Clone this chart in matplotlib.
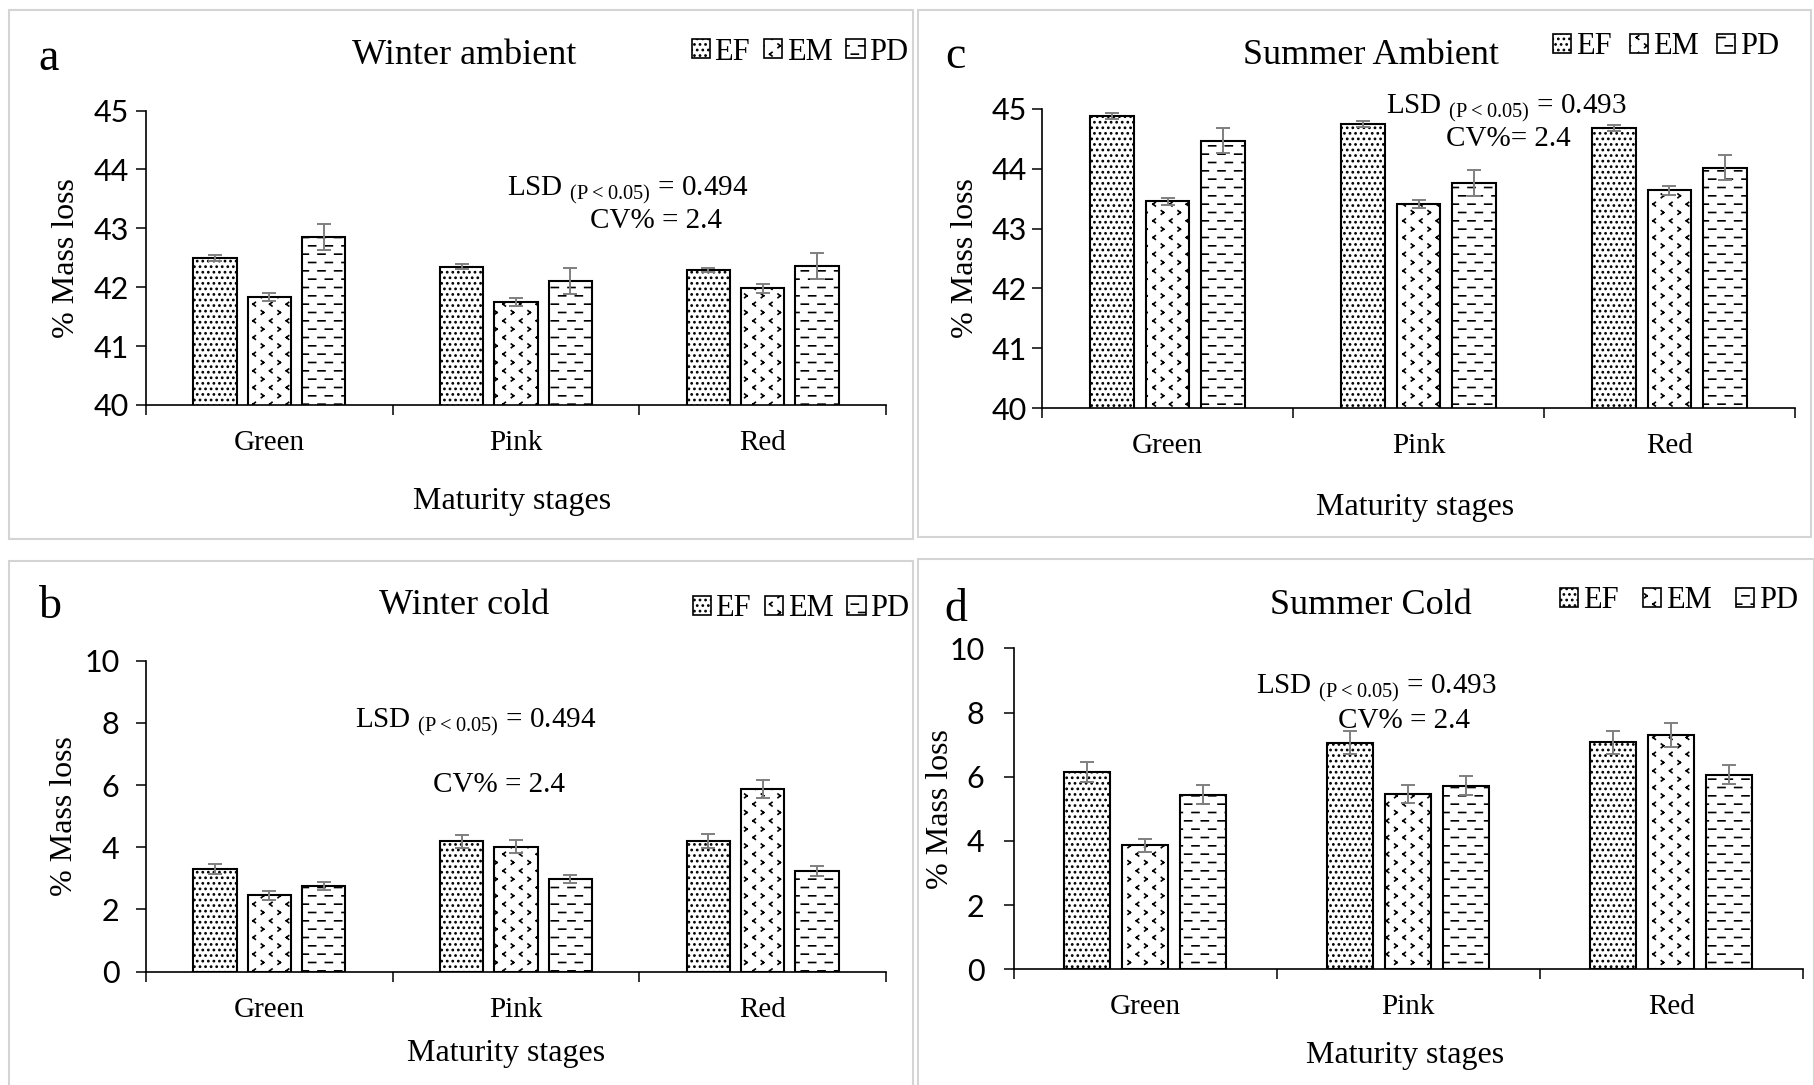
import warnings
import numpy as np
import matplotlib
matplotlib.use('Agg')
import matplotlib.pyplot as plt
from matplotlib import hatch as mhatch
from matplotlib.path import Path
from matplotlib.patches import Patch, Rectangle

warnings.filterwarnings('ignore', category=matplotlib.MatplotlibDeprecationWarning)

stages = ['Green', 'Pink', 'Red']
treatments = ['EF', 'EM', 'PD']

# mean % mass loss, one row per treatment (EF, EM, PD), columns follow stages
winter_ambient = [[42.49, 42.35, 42.29], [41.84, 41.75, 41.98], [42.86, 42.11, 42.36]]
winter_ambient_err = [[0.05, 0.04, 0.04], [0.07, 0.07, 0.07], [0.22, 0.22, 0.22]]
summer_ambient = [[44.88, 44.75, 44.69], [43.46, 43.41, 43.64], [44.47, 43.76, 44.02]]
summer_ambient_err = [[0.05, 0.05, 0.05], [0.06, 0.07, 0.07], [0.21, 0.22, 0.21]]
winter_cold = [[3.30, 4.19, 4.20], [2.46, 4.02, 5.87], [2.75, 2.98, 3.25]]
winter_cold_err = [[0.17, 0.22, 0.22], [0.14, 0.21, 0.28], [0.13, 0.14, 0.16]]
summer_cold = [[6.15, 7.06, 7.07], [3.86, 5.46, 7.29], [5.44, 5.72, 6.06]]
summer_cold_err = [[0.31, 0.36, 0.36], [0.20, 0.28, 0.37], [0.29, 0.30, 0.30]]

lsd_ambient_winter = '0.494'
lsd_summer = '0.493'
cv = '2.4'


# extra hatch patterns: '<' small chevrons, '_' staggered dashes
class Chevrons(mhatch.HatchPatternBase):
    def __init__(self, hatch, density):
        self.n = hatch.count('<') * density
        self.num_vertices = self.n * self.n * 8

    def set_vertices_and_codes(self, vertices, codes):
        s = 1.0 / self.n
        w, h = 0.07 * s, 0.11 * s
        pts = []
        for i in range(self.n):
            for j in range(self.n):
                x, y = (i + 0.25) * s, (j + 0.75) * s
                pts += [(x + w, y + h), (x - w, y), (x - w, y), (x + w, y - h)]
                x, y = (i + 0.75) * s, (j + 0.25) * s
                pts += [(x - w, y + h), (x + w, y), (x + w, y), (x - w, y - h)]
        vertices[:] = pts
        codes[:] = [Path.MOVETO, Path.LINETO] * (len(pts) // 2)


class Dashes(mhatch.HatchPatternBase):
    def __init__(self, hatch, density):
        self.n = hatch.count('_') * density
        self.num_vertices = self.n * self.n * 4

    def set_vertices_and_codes(self, vertices, codes):
        s = 1.0 / self.n
        pts = []
        for i in range(self.n):
            for j in range(self.n):
                x, y = i * s, j * s
                pts += [(x + 0.08 * s, y + 0.75 * s), (x + 0.50 * s, y + 0.75 * s),
                        (x + 0.52 * s, y + 0.25 * s), (x + 0.94 * s, y + 0.25 * s)]
        vertices[:] = pts
        codes[:] = [Path.MOVETO, Path.LINETO] * (len(pts) // 2)


mhatch._hatch_types.append(Chevrons)
mhatch._hatch_types.append(Dashes)

hatches = ['...', '<', '_']

plt.rcParams['font.family'] = 'Liberation Serif'
plt.rcParams['mathtext.fontset'] = 'custom'
plt.rcParams['mathtext.rm'] = 'Liberation Serif'
plt.rcParams['hatch.linewidth'] = 1.2

W, H = 1814, 1085
fig = plt.figure(figsize=(W / 100, H / 100), dpi=100)


def px(x, y):
    return x / W, 1 - y / H


def panel(box, frame, means, errs, ylim, ystep, ypad, letter, title, lsd,
          t_xy, l_xy, leg_xy, lsd_xy, cv_xy, yl_xy, xl_xy, cv_text, colsp):
    x0, y0, x1, y1 = box
    ax = fig.add_axes([x0 / W, 1 - y1 / H, (x1 - x0) / W, (y1 - y0) / H])
    fx0, fy0, fx1, fy1 = frame
    fig.patches.append(Rectangle(px(fx0, fy1), (fx1 - fx0) / W, (fy1 - fy0) / H,
                                 transform=fig.transFigure, fill=False,
                                 edgecolor='#d4d4d4', lw=1.5))
    x = np.arange(len(stages))
    offsets = [-0.22, 0, 0.22]
    for k in range(len(treatments)):
        ax.bar(x + offsets[k], means[k], width=0.175, color='white',
               edgecolor='black', lw=1.5, hatch=hatches[k], label=treatments[k])
        ax.errorbar(x + offsets[k], means[k], yerr=errs[k], fmt='none',
                    ecolor='#7f7f7f', elinewidth=1.4, capsize=5, capthick=1.4)
    ax.set_xlim(-0.5, 2.5)
    ax.set_ylim(*ylim)
    ax.set_yticks(np.arange(ylim[0], ylim[1] + 0.01, ystep))
    ax.set_xticks([-0.5, 0.5, 1.5, 2.5])
    ax.set_xticklabels([])
    ax.set_xticks(x, minor=True)
    ax.set_xticklabels(stages, minor=True, fontsize=21)
    ax.tick_params(axis='x', which='major', length=7, width=1.1, direction='out')
    ax.tick_params(axis='x', which='minor', length=0, pad=18)
    ax.tick_params(axis='y', length=7, width=1.1, pad=ypad, labelsize=22)
    for lab in ax.get_yticklabels():
        lab.set_family('Lato')
    for s in ['top', 'right']:
        ax.spines[s].set_visible(False)
    for s in ['left', 'bottom']:
        ax.spines[s].set_linewidth(1.2)
    ax.patch.set_visible(False)

    fig.text(*px(*t_xy), title, fontsize=26, ha='center', va='baseline')
    fig.text(*px(*l_xy), letter, fontsize=33, ha='center', va='baseline')
    fig.text(*px(*lsd_xy), r'LSD ${}_{\mathrm{(P<0.05)}}$ = ' + lsd,
             fontsize=21, ha='center', va='baseline')
    fig.text(*px(*cv_xy), cv_text, fontsize=21, ha='center', va='baseline')
    fig.text(*px(*yl_xy), '% Mass loss', fontsize=23, rotation=90,
             ha='center', va='center')
    fig.text(*px(*xl_xy), 'Maturity stages', fontsize=23, ha='center', va='baseline')
    handles = [Patch(facecolor='white', edgecolor='black', lw=1.2, hatch=h)
               for h in hatches]
    fig.legend(handles, treatments, loc='center', bbox_to_anchor=px(*leg_xy),
               ncol=3, frameon=False, fontsize=22, handlelength=0.6,
               handleheight=0.6, handletextpad=0.15, columnspacing=colsp,
               borderpad=0, borderaxespad=0)
    return ax


panel((146, 110.5, 886, 405), (9, 10, 913, 539), winter_ambient, winter_ambient_err,
      (40, 45), 1, 5, 'a', 'Winter ambient', lsd_ambient_winter,
      (464, 64), (49, 69.5), (800, 52), (628, 194.6), (656, 227.7),
      (66, 258), (512, 509), 'CV% = ' + cv, 0.45)

panel((1042, 109, 1795, 408), (918, 10, 1811, 537), summer_ambient, summer_ambient_err,
      (40, 45), 1, 3.6, 'c', 'Summer Ambient', lsd_summer,
      (1371, 64), (955, 67.8), (1666, 47), (1506, 113), (1508, 146),
      (965, 258.5), (1415, 515.5), 'CV%= ' + cv, 0.6)

panel((146, 660.6, 886, 971.7), (9, 561, 913, 1090), winter_cold, winter_cold_err,
      (0, 10), 2, 12, 'b', 'Winter cold', lsd_ambient_winter,
      (464, 614), (50, 618), (801, 609), (476, 727), (499, 792),
      (64.5, 816), (506, 1061), 'CV% = ' + cv, 0.45)

panel((1013.6, 648.4, 1802.6, 969.3), (918, 559, 1814, 1090), summer_cold, summer_cold_err,
      (0, 10), 2, 14, 'd', 'Summer Cold', lsd_summer,
      (1371, 614), (955.5, 621), (1679, 601), (1376, 693), (1404, 727.7),
      (941, 809), (1405, 1063), 'CV% = ' + cv, 0.8)

fig.savefig('out.png', dpi=100, facecolor='white')
